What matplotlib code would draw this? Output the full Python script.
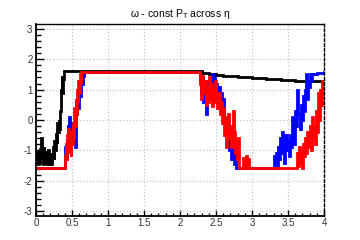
"""
Recreate the ROOT-style 'omega - const PT across eta' plot.
"""

import matplotlib
matplotlib.use("Agg")
import matplotlib.pyplot as plt
from matplotlib.ticker import MultipleLocator, FormatStrFormatter
import numpy as np

plt.rcParams["font.family"] = ["Liberation Sans", "DejaVu Sans"]
plt.rcParams["mathtext.fontset"] = "custom"
plt.rcParams["mathtext.rm"] = "Liberation Sans"

HALF_PI = 1.571

# black series (eta, omega)
black_x = [0.000, 0.015, 0.025, 0.035, 0.045, 0.055, 0.065, 0.075, 0.085, 0.095,
           0.105, 0.115, 0.125, 0.135, 0.145, 0.155, 0.165, 0.175, 0.185, 0.195,
           0.205, 0.215, 0.225, 0.235, 0.245, 0.255, 0.265, 0.275, 0.285, 0.295,
           0.305, 0.315, 0.325, 0.335, 0.345, 0.355, 0.365, 0.375, 0.385,
           2.30, 2.40, 2.50, 2.60, 2.70, 2.80, 2.90, 3.00, 3.10, 3.20, 3.30,
           3.40, 3.50, 3.60, 3.70, 3.80, 3.90, 4.00]
black_y = [-1.30, -1.05, -1.45, -1.15, -1.40, -0.95, -1.30, -0.60, -1.10, -1.45,
           -0.90, -1.35, -1.05, -1.45, -1.20, -1.45, -1.00, -1.40, -1.15, -1.45,
           -1.10, -1.45, -1.25, -0.90, -1.30, -0.70, -1.00, -0.45, -0.75, -0.10,
           -0.40, 0.00, -0.30, 0.30, 1.00, 1.45, 0.90, 1.35, 1.60,
           1.55, 1.53, 1.48, 1.46, 1.44, 1.42, 1.40, 1.38, 1.37, 1.35, 1.34,
           1.33, 1.31, 1.30, 1.29, 1.28, 1.27, 1.26]

# blue series
blue_x = [0.000, 0.400, 0.415, 0.430, 0.445, 0.460, 0.475, 0.490, 0.505, 0.520,
          0.535, 0.550, 0.565, 0.580, 0.595, 0.610, 0.625, 0.640, 0.655, 0.670,
          2.280, 2.295, 2.310, 2.325, 2.340, 2.355, 2.370, 2.385, 2.400, 2.415,
          2.430, 2.445, 2.460, 2.475, 2.490, 2.505, 2.520, 2.535, 2.550, 2.565,
          2.580, 2.595, 2.610, 2.625, 2.640, 2.655, 2.670, 2.685, 2.700, 2.715,
          2.730, 2.745, 2.760, 2.775,
          3.300, 3.315, 3.330, 3.345, 3.360, 3.375, 3.390, 3.405, 3.420, 3.435,
          3.450, 3.465, 3.480, 3.495, 3.510, 3.525, 3.540, 3.555, 3.570, 3.585,
          3.600, 3.615, 3.630, 3.645, 3.660, 3.675, 3.690, 3.705, 3.720, 3.735,
          3.750, 3.765, 3.780, 3.795, 3.810, 3.825, 3.840, 3.900, 4.000]
blue_y = [-HALF_PI, -0.90, -1.30, -0.70, -0.20, 0.10, -0.50, -0.10, -0.60, -0.30,
          -0.90, 0.20, 0.70, 0.40, 1.10, 0.80, 1.50, 1.20, 1.45, HALF_PI,
          1.30, 0.90, 1.40, 0.60, 1.10, 0.20, 0.90, 1.30, 0.80, 1.20,
          0.70, 1.50, 0.90, 1.40, 0.70, 1.20, 0.80, 1.10, 0.50, 0.90,
          0.30, 0.70, -0.10, -0.50, -0.20, -0.80, -0.40, -1.00, -0.70, -1.30,
          -0.90, -1.45, -1.20, -HALF_PI,
          -1.20, -1.45, -1.10, -HALF_PI, -0.90, -1.30, -0.60, -1.10, -0.40, -0.90,
          -1.40, -0.50, -1.00, -0.70, -1.20, -0.50, -0.90, 0.10, -0.40, -0.80,
          0.30, -0.20, 1.00, 0.20, -0.30, 0.50, 0.00, 0.80, 0.30, 1.00,
          1.50, 0.70, 1.30, 1.10, 1.50, 1.30, 1.52, 1.55, 1.57]

# red series
red_x = [0.000, 0.400, 0.410, 0.420, 0.430, 0.440, 0.450, 0.460, 0.470, 0.480,
         0.490, 0.500, 0.510, 0.520, 0.530, 0.540, 0.550, 0.560, 0.570, 0.580,
         0.590, 0.600, 0.610, 0.620, 0.630,
         2.280, 2.295, 2.310, 2.325, 2.340, 2.355, 2.370, 2.385, 2.400, 2.415,
         2.430, 2.445, 2.460, 2.475, 2.490, 2.505, 2.520, 2.535, 2.550, 2.565,
         2.580, 2.595, 2.610, 2.625, 2.640, 2.655, 2.670, 2.685, 2.700, 2.715,
         2.730, 2.745, 2.760, 2.775, 2.790, 2.805, 2.820, 2.880, 2.890, 2.920,
         2.930, 2.950, 2.960,
         3.620, 3.635, 3.650, 3.665, 3.680, 3.695, 3.710, 3.725, 3.740, 3.755,
         3.770, 3.785, 3.800, 3.815, 3.830, 3.845, 3.860, 3.875, 3.890, 3.905,
         3.920, 3.935, 3.950, 3.965, 3.975, 3.990, 4.000]
red_y = [-HALF_PI, -1.20, -0.75, -1.30, -0.50, -1.10, -0.30, -0.90, -0.60, -1.20,
         -0.40, -0.80, -0.10, -0.60, 0.40, -0.20, 0.70, 0.20, 1.00, 0.60,
         1.30, 0.90, 1.50, 1.20, HALF_PI,
         1.20, 0.70, 1.45, 0.90, 1.30, 0.50, 1.10, 0.60, 1.40, 0.80,
         1.20, 0.45, 1.00, 0.60, 1.30, 0.80, 0.40, 0.90, 0.20, 0.60,
         -0.10, 0.40, -0.50, 0.10, -0.90, -0.30, 0.20, -0.60, -0.20, -0.90,
         0.30, -0.40, -1.10, -0.70, -1.30, -0.60, -HALF_PI, -1.25, -HALF_PI, -1.20,
         -HALF_PI, -1.30, -HALF_PI,
         -1.10, -1.50, -0.90, -1.40, -1.00, -HALF_PI, -0.80, -1.20, -0.60, -1.10,
         -0.40, -0.90, -0.20, -1.00, 0.10, -0.60, -0.20, -0.80, 0.30, -0.40,
         0.90, 0.00, 1.00, 0.50, 1.30, 0.90, 1.30]

fig = plt.figure(figsize=(3.6, 2.4), dpi=100)
fig.patch.set_facecolor("white")
ax = fig.add_axes([0.1, 0.1, 0.8, 0.8])

for xs, ys, col in [(black_x, black_y, "black"),
                    (blue_x, blue_y, "#0000ff"),
                    (red_x, red_y, "#ff0000")]:
    ax.plot(xs, ys, drawstyle="steps-post", color=col, lw=2.0,
            solid_joinstyle="miter")

ax.set_xlim(0, 4)
ax.set_ylim(-3.16, 3.16)

ax.xaxis.set_major_locator(MultipleLocator(0.5))
ax.xaxis.set_minor_locator(MultipleLocator(0.1))
ax.yaxis.set_major_locator(MultipleLocator(1))
ax.yaxis.set_minor_locator(MultipleLocator(0.2))
ax.xaxis.set_major_formatter(FormatStrFormatter("%g"))
ax.yaxis.set_major_formatter(FormatStrFormatter("%g"))

ax.grid(True, which="major", color="#c0c0c0", linestyle=(0, (1, 2)), lw=0.8)
ax.set_axisbelow(True)

ax.tick_params(axis="both", which="both", direction="in", top=False,
               right=False, labelsize=7, colors="black", width=1.0)
ax.tick_params(axis="y", which="major", length=6, pad=2.5)
ax.tick_params(axis="y", which="minor", length=3.5)
ax.tick_params(axis="x", which="major", length=4.5, pad=1.5)
ax.tick_params(axis="x", which="minor", length=2.5)
for lab in ax.get_xticklabels() + ax.get_yticklabels():
    lab.set_color("#333333")

for side in ["left", "bottom"]:
    ax.spines[side].set_linewidth(1.3)
ax.spines["top"].set_linewidth(1.0)
ax.spines["right"].set_linewidth(1.0)
ax.spines["right"].set_linestyle((0, (2, 1.5)))

fig.text(0.5, 1 - 14 / 240, r"ω - const P$_{\mathrm{T}}$ across η",
         ha="center", va="center", fontsize=7.5)

fig.savefig("out.png", dpi=100, facecolor="white")
